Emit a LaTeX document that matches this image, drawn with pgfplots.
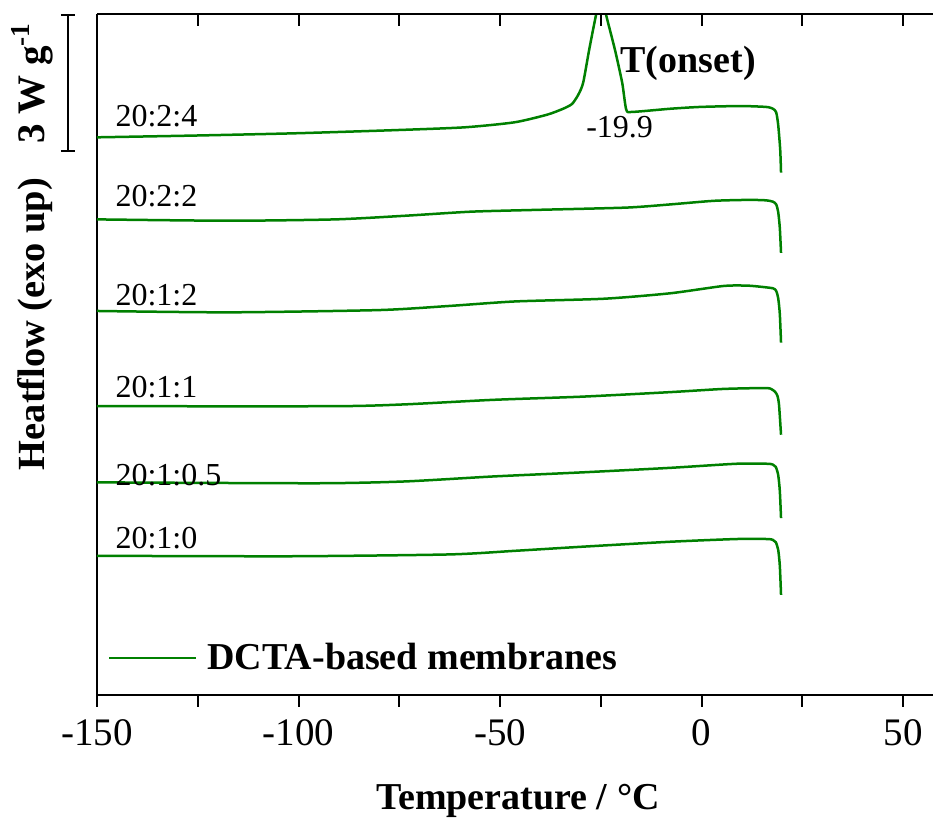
\documentclass[border=0pt]{standalone}
\usepackage{fontspec}
\setmainfont{Liberation Serif}[BoldFont={Liberation Serif Bold}]
\usepackage{pgfplots}
\pgfplotsset{compat=1.18}
\definecolor{dgreen}{RGB}{0,128,0}
\pgfplotsset{cur/.style={dgreen, solid, mark=none, line width=1.25pt, line join=round, smooth, tension=0.4}}
\begin{document}
\begin{tikzpicture}
\begin{axis}[name=ax, width=418pt, height=340.5pt, scale only axis,
  xmin=-150, xmax=57.4, ymin=0, ymax=15.02,
  axis x line*=bottom, axis y line*=left,
  axis line style={-, line width=1pt},
  xtick={-150,-100,...,50}, minor x tick num=1, ytick=\empty,
  xtick align=outside, major tick length=6pt, minor tick length=6pt,
  every tick/.style={black, line width=1pt},
  tick label style={font=\fontsize{19.5}{22}\selectfont},
  xticklabel style={yshift=-2.5pt},
  /pgf/number format/assume math mode=true,
  clip mode=individual,
  legend style={draw=none, fill=none, at={(rel axis cs:0.0132,0.0543)}, anchor=west,
    inner sep=0pt, outer sep=0pt, font=\bfseries\fontsize{19}{22}\selectfont,
    nodes={inner xsep=2.5pt, inner ysep=0pt}},
  legend image code/.code={\draw[#1, sharp plot] (0pt,0pt) -- (43.5pt,0pt); \path (46pt,0pt);},
]
% 20:2:4
\addplot[cur] coordinates {(-150,12.30) (-125.2,12.34) (-100.4,12.39) (-75.6,12.46) (-58.9,12.52)
 (-46.5,12.63) (-38.3,12.80) (-34.1,12.94) (-32.1,13.04) (-30.6,13.24) (-29.4,13.50)
 (-27.9,14.23) (-26.2,15.00) (-24.9,15.51) (-23.7,15.00) (-21.5,14.23) (-19.7,13.50)
 (-18.7,12.91) (-17.2,12.86) (-7.8,12.93) (-0.4,12.97) (9.6,12.99) (16.0,12.97)
 (17.7,12.93) (18.5,12.85) (19.0,12.57) (19.5,12.02) (19.7,11.52)};
\addlegendentry{DCTA-based membranes}
% 20:2:2
\addplot[cur] coordinates {(-150,10.49) (-117.2,10.46) (-90.9,10.49) (-73.6,10.57) (-57.2,10.66)
 (-40.8,10.70) (-18.7,10.75) (-7.8,10.82) (3.1,10.90) (11.8,10.92) (16.0,10.91)
 (17.7,10.88) (18.5,10.82) (19.0,10.65) (19.4,10.30) (19.7,9.75)};
% 20:1:2
\addplot[cur] coordinates {(-150,8.47) (-117.2,8.44) (-80.0,8.49) (-62.7,8.58) (-46.3,8.68)
 (-24.2,8.74) (-7.8,8.86) (5.3,9.02) (11.0,9.03) (14.0,9.01) (17.7,8.97)
 (18.5,8.91) (19.0,8.75) (19.4,8.40) (19.7,7.77)};
% 20:1:1
\addplot[cur] coordinates {(-150,6.37) (-90.9,6.37) (-73.6,6.41) (-51.7,6.51) (-29.7,6.58)
 (-7.8,6.68) (5.3,6.75) (15.0,6.77) (17.0,6.76) (18.2,6.69) (18.8,6.60) (19.2,6.40) (19.7,5.74)};
% 20:1:0.5
\addplot[cur] coordinates {(-150,4.69) (-95.4,4.67) (-73.6,4.71) (-51.7,4.82) (-29.7,4.91)
 (-7.8,5.01) (8.6,5.10) (16.3,5.10) (17.7,5.08) (18.4,5.03) (19.0,4.85) (19.4,4.50) (19.7,3.90)};
% 20:1:0
\addplot[cur] coordinates {(-150,3.07) (-101.9,3.06) (-62.7,3.10) (-46.3,3.18) (-29.7,3.27)
 (-7.8,3.38) (8.6,3.44) (16.3,3.44) (17.7,3.42) (18.4,3.37) (19.0,3.20) (19.4,2.85) (19.7,2.21)};

\begin{scope}[font=\fontsize{16}{19}\selectfont]
\node[anchor=base west, inner sep=0pt] at (axis cs:-145.5,12.53) {20:2:4};
\node[anchor=base west, inner sep=0pt] at (axis cs:-145.5,10.77) {20:2:2};
\node[anchor=base west, inner sep=0pt] at (axis cs:-145.5,8.58) {20:1:2};
\node[anchor=base west, inner sep=0pt] at (axis cs:-145.5,6.57) {20:1:1};
\node[anchor=base west, inner sep=0pt] at (axis cs:-145.5,4.61) {20:1:0.5};
\node[anchor=base west, inner sep=0pt] at (axis cs:-145.5,3.24) {20:1:0};
\node[anchor=base west, inner sep=0pt] at (axis cs:-28.7,12.29) {-19.9};
\end{scope}
\node[anchor=base west, inner sep=0pt, font=\bfseries\fontsize{19}{22}\selectfont] at (axis cs:-20.2,13.72) {T(onset)};
% scale bar
\draw[line width=1pt] ([xshift=-14.5pt]axis cs:-150,12) -- ([xshift=-14.5pt]axis cs:-150,15);
\draw[line width=1pt] ([xshift=-18pt]axis cs:-150,12) -- ([xshift=-11pt]axis cs:-150,12);
\draw[line width=1pt] ([xshift=-18pt]axis cs:-150,15) -- ([xshift=-11pt]axis cs:-150,15);
\node[rotate=90, anchor=base, inner sep=0pt, font=\bfseries\fontsize{19.5}{22}\selectfont] at ([xshift=-26pt]axis cs:-150,13.49) {3 W g\textsuperscript{-1}};
\node[rotate=90, anchor=base, inner sep=0pt, font=\bfseries\fontsize{19.2}{22}\selectfont] at ([xshift=-26pt]rel axis cs:0,0.5448) {Heatflow (exo up)};
\node[anchor=base, inner sep=0pt, font=\bfseries\fontsize{19}{22}\selectfont] at ([yshift=-57.5pt]rel axis cs:0.5036,0) {Temperature / °C};
\end{axis}
\begin{axis}[at={(ax.south west)}, anchor=south west, width=418pt, height=340.5pt, scale only axis,
  xmin=-150, xmax=57.4, ymin=0, ymax=15.02,
  axis x line*=top, axis y line=none, axis line style={-, line width=1pt},
  xtick={-150,-100,...,50}, minor x tick num=1, xticklabels={}, ytick=\empty,
  xtick align=inside, major tick length=6pt, minor tick length=6pt,
  every tick/.style={black, line width=1pt}]
\end{axis}
\pgfresetboundingbox
\path[use as bounding box] ([xshift=-48.5pt,yshift=-62pt]ax.south west) rectangle ([yshift=7pt]ax.north east);
\end{tikzpicture}
\end{document}
